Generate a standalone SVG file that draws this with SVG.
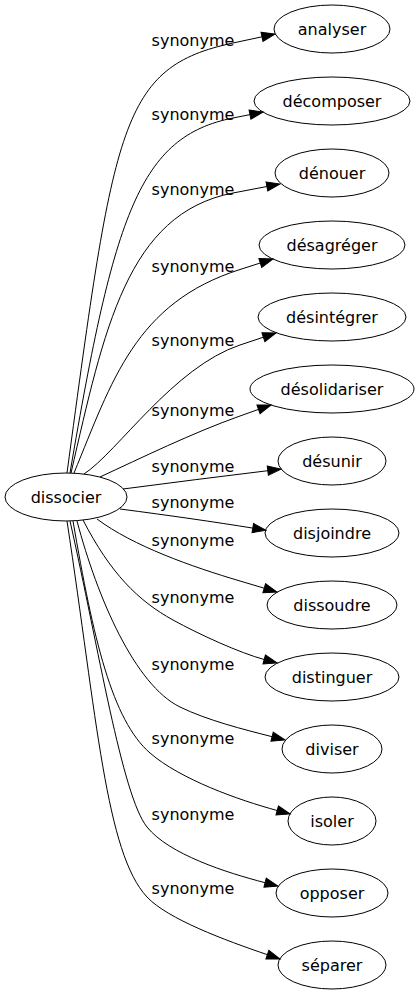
<svg xmlns="http://www.w3.org/2000/svg" width="419" height="995" viewBox="0 0 419 995">
<style>
.n ellipse{fill:none;stroke:#000;stroke-width:1}
text{font-family:"DejaVu Sans",sans-serif;font-size:16px;fill:#000;text-anchor:middle}
.e path{fill:none;stroke:#000;stroke-width:1;marker-end:url(#ah)}
</style>
<defs>
<marker id="ah" markerWidth="16" markerHeight="12" refX="0" refY="4.67" orient="auto" markerUnits="userSpaceOnUse" overflow="visible">
<path d="M0,0 L13.3,4.67 L0,9.33 z" fill="#000" stroke="#000" stroke-width="1"/>
</marker>
</defs>
<rect width="419" height="995" fill="#fff"/>
<g id="edges" class="e">
<path d="M67,473 C114.3,123 120.5,67.2 233,43 L262,36.8"/>
<path d="M70,473 C114.2,213 139.9,136.6 233,118 L250,114.6"/>
<path d="M71,473 C104,330 127,213.5 233,193 L266.9,186.5"/>
<path d="M74,473 C112,381 135.2,302.8 240,269.5 L260.3,263"/>
<path d="M84,474 C117.6,452 173.6,367.1 240,345 L263.4,337.2"/>
<path d="M100,477 C140.8,458.1 192.9,432.7 240,416 L258.5,409.4"/>
<path d="M123,489 C171,482.7 220,476.5 267.8,470.7"/>
<path d="M120,509 C170,515.5 215,522 252.8,528.1"/>
<path d="M97,519 C133,546 192,566.8 240,581 L264.2,588.2"/>
<path d="M83,520 C110.5,573.3 138,600.7 173,620 C199.3,634.5 240,653 264.2,659.5"/>
<path d="M77,521 C97.5,598.3 135,685 180,707 C207,720.2 243,729.3 272.1,736.7"/>
<path d="M73,521 C93.3,639.3 112.2,720.2 150,753 C180.2,779.2 238.6,800.1 277.2,810.5"/>
<path d="M70,521 C98.6,647.8 122,795.8 147,827 C168.9,854.3 226.4,872.7 265.1,882.7"/>
<path d="M67,521 C97,718.8 106,853.2 147,897 C167.5,918.9 224.8,940.2 267.4,954.7"/>
</g>
<g id="edge-labels">
<text x="193" y="46">synonyme</text>
<text x="193" y="120">synonyme</text>
<text x="193" y="195">synonyme</text>
<text x="193" y="272">synonyme</text>
<text x="193" y="346">synonyme</text>
<text x="193" y="416">synonyme</text>
<text x="193" y="472">synonyme</text>
<text x="193" y="508">synonyme</text>
<text x="193" y="546">synonyme</text>
<text x="193" y="603">synonyme</text>
<text x="193" y="670">synonyme</text>
<text x="193" y="744">synonyme</text>
<text x="193" y="820">synonyme</text>
<text x="193" y="894">synonyme</text>
</g>
<g id="dissocier" class="n"><ellipse cx="66" cy="497" rx="61" ry="24"/><text x="66" y="503">dissocier</text></g>
<g id="analyser" class="n"><ellipse cx="332" cy="29" rx="58" ry="24"/><text x="332" y="35">analyser</text></g>
<g id="decomposer" class="n"><ellipse cx="332" cy="101" rx="78" ry="24"/><text x="332" y="107">décomposer</text></g>
<g id="denouer" class="n"><ellipse cx="332" cy="173" rx="57" ry="24"/><text x="332" y="179">dénouer</text></g>
<g id="desagreger" class="n"><ellipse cx="332" cy="245" rx="73" ry="24"/><text x="332" y="251">désagréger</text></g>
<g id="desintegrer" class="n"><ellipse cx="332" cy="317" rx="74" ry="24"/><text x="332" y="323">désintégrer</text></g>
<g id="desolidariser" class="n"><ellipse cx="332" cy="389" rx="82" ry="24"/><text x="332" y="395">désolidariser</text></g>
<g id="desunir" class="n"><ellipse cx="332" cy="461" rx="54" ry="24"/><text x="332" y="467">désunir</text></g>
<g id="disjoindre" class="n"><ellipse cx="332" cy="533" rx="67" ry="24"/><text x="332" y="539">disjoindre</text></g>
<g id="dissoudre" class="n"><ellipse cx="332" cy="605" rx="65" ry="24"/><text x="332" y="611">dissoudre</text></g>
<g id="distinguer" class="n"><ellipse cx="332" cy="677" rx="67" ry="24"/><text x="332" y="683">distinguer</text></g>
<g id="diviser" class="n"><ellipse cx="332" cy="749" rx="50" ry="24"/><text x="332" y="755">diviser</text></g>
<g id="isoler" class="n"><ellipse cx="332" cy="821" rx="44" ry="24"/><text x="332" y="827">isoler</text></g>
<g id="opposer" class="n"><ellipse cx="332" cy="893" rx="56" ry="24"/><text x="332" y="899">opposer</text></g>
<g id="separer" class="n"><ellipse cx="332" cy="965" rx="54" ry="24"/><text x="332" y="971">séparer</text></g>
</svg>
